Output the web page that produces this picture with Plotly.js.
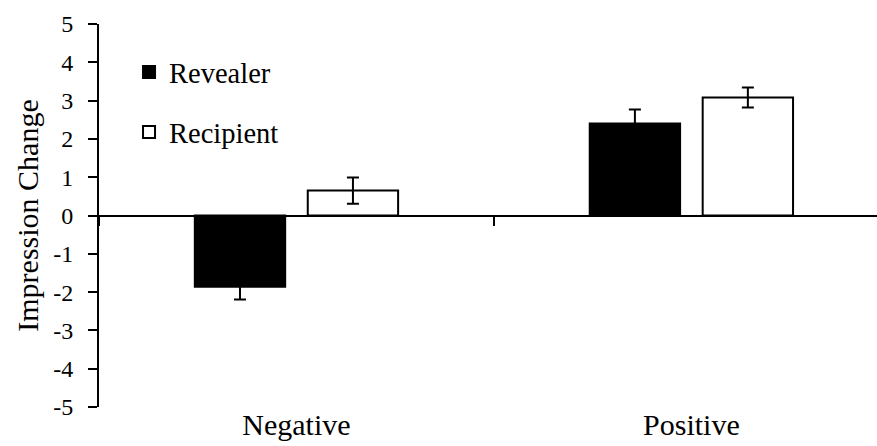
<!DOCTYPE html>
<html>
<head>
<meta charset="utf-8">
<script src="https://cdn.plot.ly/plotly-3.0.1.min.js"></script>
<style>
  html, body { margin: 0; padding: 0; background: #fff; }
  #chart { width: 877px; height: 446px; }
</style>
</head>
<body>
<div id="chart"></div>
<script>
// Mean impression change by disclosure valence, with standard errors
const categories = ['Negative', 'Positive'];
const revealerMeans = [-1.86, 2.40];
const revealerErrors = [0.33, 0.37];
const recipientMeans = [0.65, 3.08];
const recipientErrors = [0.34, 0.26];
const yTickValues = [-5, -4, -3, -2, -1, 0, 1, 2, 3, 4, 5];
const yTickLabels = ['-5', '-4', '-3', '-2', '-1', '0', '1', '2', '3', '4', '5'];

const serif = '"Times New Roman", "Liberation Serif", serif';

const errorStyle = (values) => ({
  type: 'data', array: values, visible: true,
  color: '#000', thickness: 2, width: 6
});

const traces = [
  {
    type: 'bar', name: 'Revealer', x: categories, y: revealerMeans,
    marker: { color: '#000', line: { color: '#000', width: 2 } },
    error_y: errorStyle(revealerErrors),
    legendgroup: 'a'
  },
  {
    type: 'bar', name: 'Recipient', x: categories, y: recipientMeans,
    marker: { color: '#fff', line: { color: '#000', width: 2 } },
    error_y: errorStyle(recipientErrors),
    legendgroup: 'b'
  }
];

const layout = {
  width: 877, height: 446,
  margin: { l: 99, r: 0, t: 24, b: 38.5, pad: 0 },
  paper_bgcolor: '#fff', plot_bgcolor: '#fff',
  barmode: 'group', bargap: 0.428, bargroupgap: 0.2,
  font: { family: serif, color: '#000' },
  showlegend: true,
  legend: {
    x: 0.0386, xanchor: 'left', y: 0.94, yanchor: 'top',
    font: { family: serif, size: 28.5, color: '#000' },
    traceorder: 'grouped', tracegroupgap: 20,
    bgcolor: 'rgba(0,0,0,0)', borderwidth: 0
  },
  xaxis: {
    type: 'category', range: [-0.5, 1.47],
    anchor: 'free', position: 0.5,
    showline: true, linecolor: '#000', linewidth: 2,
    ticks: 'outside', tickson: 'boundaries', ticklen: 9, tickwidth: 2, tickcolor: '#000',
    ticklabelstandoff: 182,
    tickfont: { family: serif, size: 30, color: '#000' },
    showgrid: false, zeroline: false, fixedrange: true
  },
  yaxis: {
    range: [-5, 5], tickmode: 'array', tickvals: yTickValues, ticktext: yTickLabels,
    showline: true, linecolor: '#000', linewidth: 2,
    ticks: 'outside', ticklen: 9, tickwidth: 2, tickcolor: '#000',
    ticklabelstandoff: 10,
    tickfont: { family: serif, size: 24, color: '#000' },
    showgrid: false, zeroline: false, fixedrange: true,
    title: { text: 'Impression Change', font: { family: serif, size: 30, color: '#000' }, standoff: 6 }
  }
};

Plotly.newPlot('chart', traces, layout, { displayModeBar: false, staticPlot: true });
</script>
</body>
</html>
